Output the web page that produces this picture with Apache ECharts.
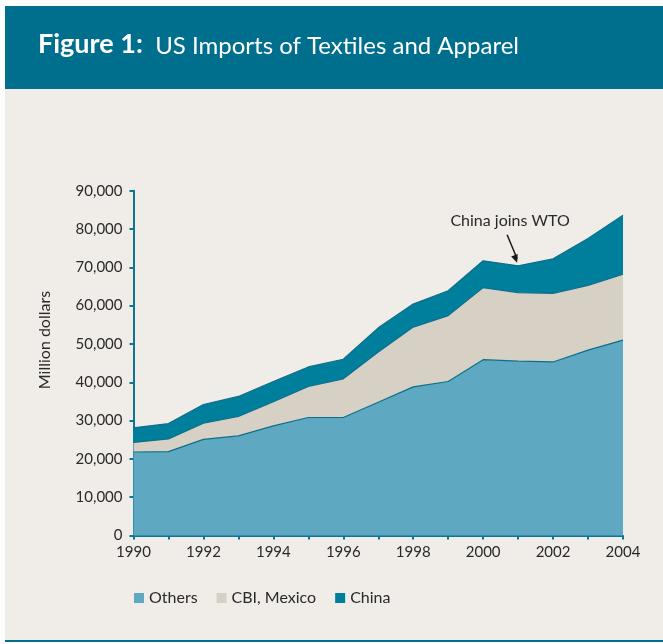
<!DOCTYPE html>
<html><head><meta charset="utf-8">
<script src="https://cdn.jsdelivr.net/npm/echarts@6/dist/echarts.min.js"></script>
<style>html,body{margin:0;padding:0;background:#fff;}#c{width:663px;height:644px;}</style>
</head><body><div id="c"></div>
<script>
const years = ['1990','1991','1992','1993','1994','1995','1996','1997','1998','1999','2000','2001','2002','2003','2004'];
const others = [21800,21900,25100,26000,28600,30800,30800,34800,38800,40200,45900,45500,45300,48400,51000];
const cbiMexico = [2500,3300,4200,5100,6300,8100,10100,13100,15600,17200,18800,17900,17900,16900,17200];
const china = [3800,4000,4900,5200,5300,5100,5100,6300,6000,6500,7000,7000,9000,12200,15400];
const seriesNames = ['Others','CBI, Mexico','China'];
const yTicks = [0,10000,20000,30000,40000,50000,60000,70000,80000,90000];
const annotationText = 'China joins WTO';
const annotationYear = '2001';

const FONT = 'Lato';
const TEAL = '#006f8d';
const AXIS = '#0a7594';
const chart = echarts.init(document.getElementById('c'), null, {renderer:'canvas'});
const lineC = '#0b6f8b';
function mk(name, data, fill){
  return {name, type:'line', stack:'t', data, symbol:'none', smooth:false,
    lineStyle:{color:lineC, width:1.2}, itemStyle:{color:fill},
    areaStyle:{color:fill, opacity:1}, emphasis:{disabled:true}, silent:true};
}
const baseGraphic = [
  {type:'rect', z:-10, shape:{x:5,y:6,width:658,height:636}, style:{fill:'#f0ede8'}},
  {type:'rect', z:-9, shape:{x:5,y:6,width:658,height:83}, style:{fill:TEAL}},
  {type:'rect', z:-9, shape:{x:5,y:640,width:658,height:2}, style:{fill:TEAL}},
  {type:'text', left:38, top:31, style:{rich:{b:{fontFamily:FONT,fontWeight:'bold',fontSize:27,fill:'#fff',verticalAlign:'bottom'},r:{fontFamily:FONT,fontSize:24,fill:'#fff',verticalAlign:'bottom'}}, text:'{b|Figure 1:}{r|  US Imports of Textiles and Apparel}'}},
  {type:'text', z:20, x:45, y:340, rotation:Math.PI/2, style:{text:'Million dollars', fontFamily:FONT, fontSize:16, fill:'#2a2a2a', align:'center', verticalAlign:'middle'}}
];
const option = {
  animation:false,
  backgroundColor:'#ffffff',
  textStyle:{fontFamily:FONT},
  graphic:baseGraphic,
  legend:{
    data:seriesNames, left:129, top:585, icon:'rect', itemWidth:10, itemHeight:10, itemGap:19,
    textStyle:{fontFamily:FONT, fontSize:16, color:'#2a2a2a'}
  },
  grid:{left:133.5, right:40, top:190.7, bottom:108.5, containLabel:false},
  xAxis:{type:'category', data:years, boundaryGap:false,
    axisLine:{lineStyle:{color:AXIS, width:2}},
    axisTick:{interval:0, length:4, lineStyle:{color:AXIS, width:2}},
    axisLabel:{interval:1, color:'#2a2a2a', fontSize:15, margin:9, fontFamily:FONT}
  },
  yAxis:{type:'value', min:yTicks[0], max:yTicks[yTicks.length-1], interval:10000,
    splitLine:{show:false},
    axisLine:{show:true, lineStyle:{color:AXIS, width:2}},
    axisTick:{show:true, length:4, lineStyle:{color:AXIS, width:2}},
    axisLabel:{color:'#2a2a2a', fontSize:15, margin:11, fontFamily:FONT,
      formatter:v=>v.toLocaleString('en-US')}
  },
  series:[
    mk(seriesNames[0], others, '#5ea9c1'),
    mk(seriesNames[1], cbiMexico, '#d6d0c5'),
    mk(seriesNames[2], china, '#007f9c')
  ]
};
chart.setOption(option);
// annotation anchored to the 2001 total
const idx = years.indexOf(annotationYear);
const total = others[idx]+cbiMexico[idx]+china[idx];
const p = chart.convertToPixel({gridIndex:0}, [annotationYear, total]);
const tip = [p[0]-1, p[1]-3];
const tail = [tip[0]-10, tip[1]-28];
chart.setOption({graphic: baseGraphic.concat([
  {type:'text', z:20, x:tail[0]+3, y:tail[1]-6, style:{text:annotationText, fontFamily:FONT, fontSize:16, fill:'#2a2a2a', align:'center', verticalAlign:'bottom'}},
  {type:'line', z:20, shape:{x1:tail[0], y1:tail[1], x2:tip[0], y2:tip[1]-4}, style:{stroke:'#1a1a1a', lineWidth:1.5}},
  {type:'polygon', z:20, shape:{points:(function(){
      const dx=tip[0]-tail[0], dy=tip[1]-tail[1], L=Math.hypot(dx,dy), ux=dx/L, uy=dy/L;
      const bx=tip[0]-ux*8, by=tip[1]-uy*8;
      return [[tip[0],tip[1]],[bx-uy*3.5,by+ux*3.5],[bx+uy*3.5,by-ux*3.5]];
    })()}, style:{fill:'#1a1a1a'}}
])}, {replaceMerge:['graphic']});
</script></body></html>
